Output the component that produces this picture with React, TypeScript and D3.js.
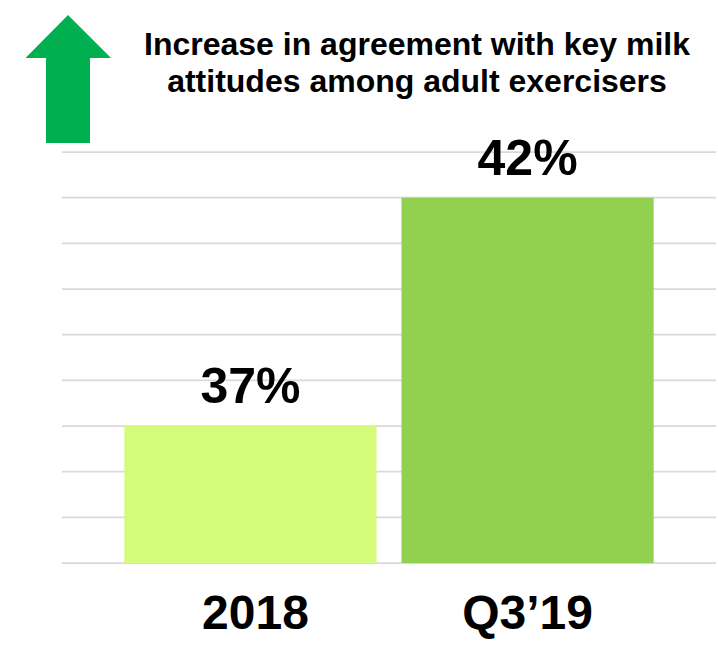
import React from "react";
import * as d3 from "d3";

const categories = ["2018", "Q3\u201919"];
const values = [37, 42];
const valueLabels = ["37%", "42%"];
const barColors = ["#D4FB79", "#92D050"];
const gridTicks = [34, 35, 36, 37, 38, 39, 40, 41, 42, 43];
const titleLines = ["Increase in agreement with key milk", "attitudes among adult exercisers"];

const W = 718;
const H = 650;
const FONT = "'Liberation Sans', Arial, Helvetica, sans-serif";

export default function App() {
  const x = d3
    .scaleBand<string>()
    .domain(categories)
    .range([62, 716])
    .paddingInner(0.09)
    .paddingOuter(0.225);
  const y = d3.scaleLinear().domain([34, 43]).range([563, 152]);

  const arrow = d3.path();
  arrow.moveTo(68, 15);
  arrow.lineTo(111, 58);
  arrow.lineTo(90, 58);
  arrow.lineTo(90, 143);
  arrow.lineTo(46, 143);
  arrow.lineTo(46, 58);
  arrow.lineTo(25.5, 58);
  arrow.closePath();

  return (
    <svg
      width={W}
      height={H}
      viewBox={`0 0 ${W} ${H}`}
      style={{ position: "absolute", left: 0, top: 0, background: "#fff" }}
      fontFamily={FONT}
    >
      <path d={arrow.toString()} fill="#00B050" />
      {titleLines.map((t, i) => (
        <text
          key={i}
          x={417}
          y={55 + i * 37}
          textAnchor="middle"
          fontSize={32}
          fontWeight="bold"
          fill="#000"
        >
          {t}
        </text>
      ))}
      {gridTicks.map((t) => (
        <line
          key={t}
          x1={62}
          x2={716}
          y1={y(t)}
          y2={y(t)}
          stroke="#D9D9D9"
          strokeWidth={1.75}
        />
      ))}
      {categories.map((c, i) => (
        <g key={c}>
          <rect
            x={x(c)}
            y={y(values[i])}
            width={x.bandwidth()}
            height={y(34) - y(values[i])}
            fill={barColors[i]}
          />
          <text
            x={(x(c) as number) + x.bandwidth() / 2}
            y={y(values[i]) - 23}
            textAnchor="middle"
            fontSize={50}
            fontWeight="bold"
            fill="#000"
          >
            {valueLabels[i]}
          </text>
          <text
            x={(x(c) as number) + x.bandwidth() / 2 + (i === 0 ? 5 : 0)}
            y={629}
            textAnchor="middle"
            fontSize={48}
            fontWeight="bold"
            fill="#000"
          >
            {c}
          </text>
        </g>
      ))}
    </svg>
  );
}
